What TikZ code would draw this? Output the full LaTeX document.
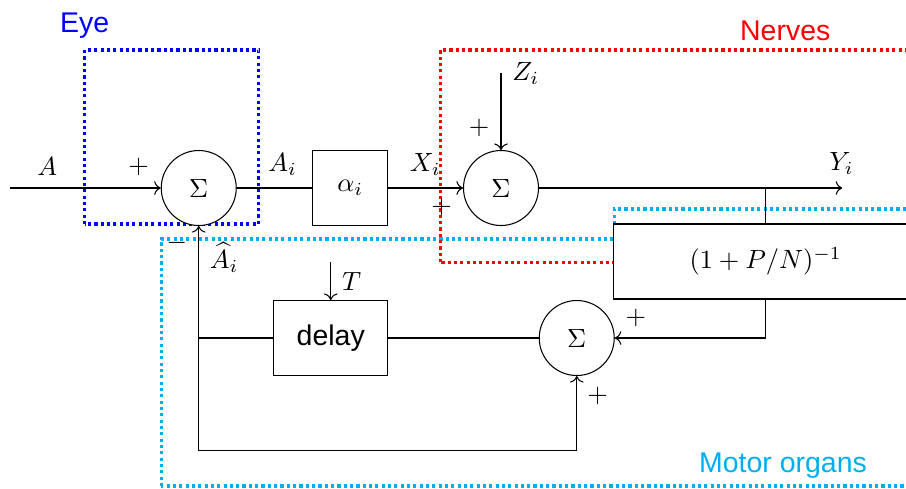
\documentclass[tikz,border=0pt]{standalone}
\usepackage{fontspec}
\setsansfont{Liberation Sans}
\usepackage{tikz}
\usetikzlibrary{arrows.meta, positioning}

\definecolor{eyeblue}{RGB}{0,0,255}
\definecolor{nervered}{RGB}{255,0,0}
\definecolor{motorcyan}{RGB}{0,174,239}

\begin{document}
\begin{tikzpicture}[
	font=\normalsize,
	sum/.style={
		draw,
		circle,
		minimum size=1cm,
		inner sep=0pt,
		fill=white
	},
	blk/.style={
		draw,
		minimum height=1cm,
		inner sep=0pt,
		fill=white
	},
	region/.style={
		line width=1.2pt,
		dash pattern=on 1.2pt off 1.2pt
	},
	tag/.style={
		font=\sffamily\fontsize{10.8}{13}\selectfont,
		anchor=base
	},
	sig/.style={
		inner sep=1pt
	}
	]
	\useasboundingbox (0,0) rectangle (12.08,6.507);

	% dotted regions, drawn first so that the blocks sit on top
	\draw[region, motorcyan] (2.15,0.027) -- (2.15,3.32) -- (8.19,3.32) -- (8.19,3.72) -- (12.6,3.72) -- (12.6,0.027) -- cycle;
	\draw[region, nervered] (5.87,3.01) rectangle (12.6,5.84);
	\draw[region, eyeblue] (1.13,3.52) rectangle (3.45,5.84);

	\node[tag, text=eyeblue] (eye) at (1.13,6.07) {Eye};
	\node[tag, text=nervered] (nerves) at (10.47,5.97) {Nerves};
	\node[tag, text=motorcyan] (motor) at (10.44,0.213) {Motor organs};

	% forward path
	\coordinate (in) at (0.13,4);
	\node[sum] (s1) at (2.65,4) {$\Sigma$};
	\node[blk, minimum width=1cm] (alpha) at (4.67,4) {$\alpha_i$};
	\node[sum] (s2) at (6.68,4) {$\Sigma$};
	\coordinate (out) at (11.23,4);
	\coordinate (tap) at (10.21,4);
	\coordinate (z) at (6.68,5.53);

	\draw[->] (in) -- (s1);
	\draw (s1) -- (alpha);
	\draw[->] (alpha) -- (s2);
	\draw[->] (s2) -- (out);
	\draw[->] (z) -- (s2.north);

	% feedback path
	\node[blk, minimum width=4.05cm] (fb) at (10.21,3.02) {$(1+P/N)^{-1}$};
	\node[sum] (s3) at (7.69,2) {$\Sigma$};
	\node[blk, minimum width=1.52cm, font=\sffamily\fontsize{10.8}{13}\selectfont] (delay) at (4.41,2) {delay};
	\coordinate (t) at (4.41,3.01);
	\coordinate (join) at (2.65,2);
	\coordinate (loop) at (2.65,0.5);

	\draw (tap) -- (fb.north);
	\draw[->] (fb.south) |- (s3.east);
	\draw (s3.west) -- (delay.east);
	\draw (delay.west) -- (join);
	\draw[->] (join) -- (s1.south);
	\draw[->] (join) -- (loop) -| (s3.south);
	\draw[->] (t) -- (delay.north);

	% signal names and signs
	\node[sig] (lA) at (0.63,4.29) {$A$};
	\node[sig] (lAi) at (3.77,4.31) {$A_i$};
	\node[sig] (lXi) at (5.67,4.31) {$X_i$};
	\node[sig] (lYi) at (11.22,4.33) {$Y_i$};
	\node[sig] (lZi) at (7.01,5.53) {$Z_i$};
	\node[sig] (lAh) at (2.99,3.07) {$\widehat{A}_i$};
	\node[sig] (lT) at (4.69,2.75) {$T$};

	\node[sig] (p1) at (1.85,4.28) {$+$};
	\node[sig] (p2) at (6.39,4.8) {$+$};
	\node[sig] (p3) at (5.89,3.75) {$+$};
	\node[sig] (m1) at (2.36,3.27) {$-$};
	\node[sig] (p4) at (8.48,2.27) {$+$};
	\node[sig] (p5) at (7.97,1.23) {$+$};
\end{tikzpicture}
\end{document}
